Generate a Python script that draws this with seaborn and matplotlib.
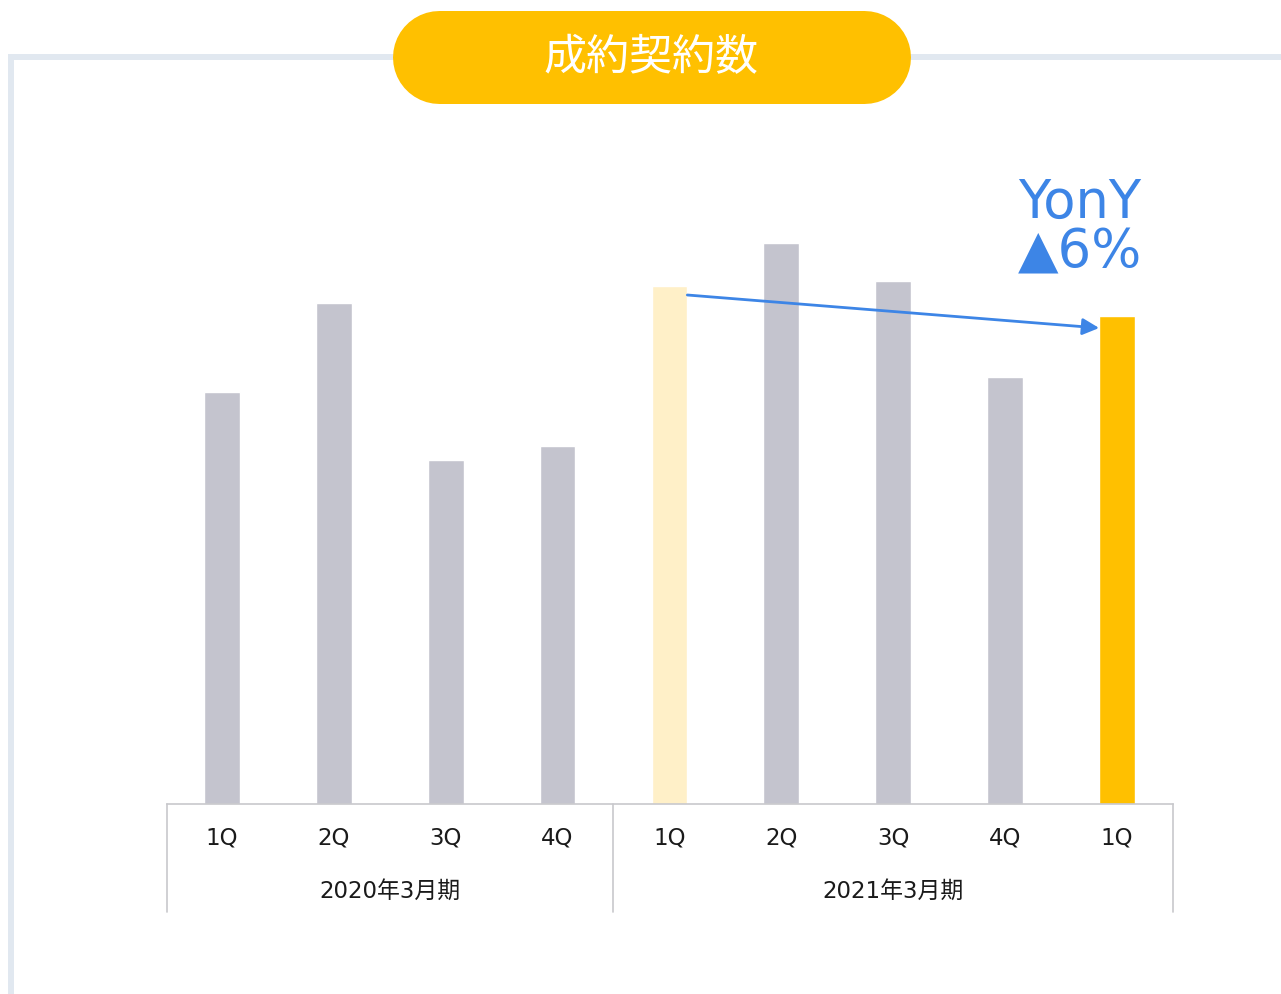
import matplotlib
matplotlib.use("Agg")
import matplotlib.pyplot as plt
import seaborn as sns
import pandas as pd
from matplotlib.patches import Rectangle
from matplotlib.lines import Line2D

# ---- data ----
quarters = ["1Q", "2Q", "3Q", "4Q", "1Q", "2Q", "3Q", "4Q", "1Q"]
periods = ["2020年3月期", "2021年3月期"]
values = [412, 501, 344, 358, 518, 561, 523, 427, 488]
bar_colors = ["#c4c4ce"] * 4 + ["#fff0c8", "#c4c4ce", "#c4c4ce", "#c4c4ce", "#ffc000"]
title = "成約契約数"
yoy_lines = ["YonY", "▲6%"]

sns.set_theme(style="white")
plt.rcParams["font.family"] = ["DejaVu Sans", "Noto Sans CJK JP"]

W, H = 1281, 994
DPI = 100
fig = plt.figure(figsize=(W / DPI, H / DPI), dpi=DPI)
inch = fig.dpi_scale_trans


def px(x, y):
    """pixel (from top-left) -> inches (from bottom-left)"""
    return x / DPI, (H - y) / DPI


# frame bands
fig.patches.append(Rectangle(px(8, H), 6 / DPI, (H - 54) / DPI, transform=inch,
                             facecolor="#e1e8f0", edgecolor="none", zorder=0))
fig.patches.append(Rectangle(px(8, 60), (W - 8) / DPI, 6 / DPI, transform=inch,
                             facecolor="#e1e8f0", edgecolor="none", zorder=0))

# axes
ax_l, ax_r, ax_b, ax_t = 167, 1173, 804, 150
ax = fig.add_axes([ax_l / W, (H - ax_b) / H, (ax_r - ax_l) / W, (ax_b - ax_t) / H])
ax.set_facecolor("none")

keys = [f"k{i}" for i in range(len(values))]
df = pd.DataFrame({"key": keys, "value": values})
sns.barplot(data=df, x="key", y="value", hue="key", palette=bar_colors,
            width=0.32, legend=False, ax=ax, saturation=1)

ax.set_xlim(-0.49, 8.5)
ax.set_ylim(0, ax_b - ax_t)
ax.set_xlabel("")
ax.set_ylabel("")
ax.set_yticks([])
ax.set_xticks(range(len(quarters)))
ax.set_xticklabels(quarters, fontsize=16.5, color="#1a1a1a")
ax.tick_params(axis="x", length=0, pad=16)
for s in ["top", "right", "left"]:
    ax.spines[s].set_visible(False)
ax.spines["bottom"].set_color("#c8c8cc")
ax.spines["bottom"].set_linewidth(1.2)

# category separator lines below the axis
trans = ax.get_xaxis_transform()
sep_depth = -(912 - 804) / (ax_b - ax_t)
bounds = [-0.49, 3.5, 8.5]
for b in bounds:
    ax.plot([b, b], [0, sep_depth], transform=trans, color="#c8c8cc", lw=1.2, clip_on=False)

# period labels
label_y = -(891 - 804) / (ax_b - ax_t)
for i, p in enumerate(periods):
    ax.text((bounds[i] + bounds[i + 1]) / 2, label_y, p, transform=trans, ha="center", va="center",
            fontsize=16.5, family=["DejaVu Sans", "Noto Sans CJK JP"], color="#1a1a1a")

# YoY arrow
bw = 0.32
ax.annotate("", xy=(8 - bw / 2, values[8] - 12), xytext=(4 + bw / 2, values[4] - 9),
            arrowprops=dict(arrowstyle="-|>", color="#3d85e6", lw=2, mutation_scale=25,
                            shrinkA=0, shrinkB=0))
ax.text(7.665, ax_b - 203, yoy_lines[0], ha="center", va="center", fontsize=38,
        color="#3d85e6")
ax.text(7.665, ax_b - 252, yoy_lines[1], ha="center", va="center", fontsize=38,
        color="#3d85e6")

# title pill (thick line with round caps)
pill_l, pill_r, pill_t, pill_b = 392, 910, 10, 103
r = (pill_b - pill_t) / 2
yc = (pill_t + pill_b) / 2
x0, y0 = px(pill_l + r, yc)
x1, _ = px(pill_r - r, yc)
fig.lines.append(Line2D([x0, x1], [y0, y0], transform=inch, color="#ffc000",
                        lw=(pill_b - pill_t) * 72 / DPI, solid_capstyle="round", zorder=2))
fig.text((pill_l + pill_r) / 2 / W, (H - 58) / H, title, ha="center", va="center", color="white",
         fontsize=31, family=["Noto Sans CJK JP"], zorder=3)

fig.savefig("out.png", dpi=DPI)
